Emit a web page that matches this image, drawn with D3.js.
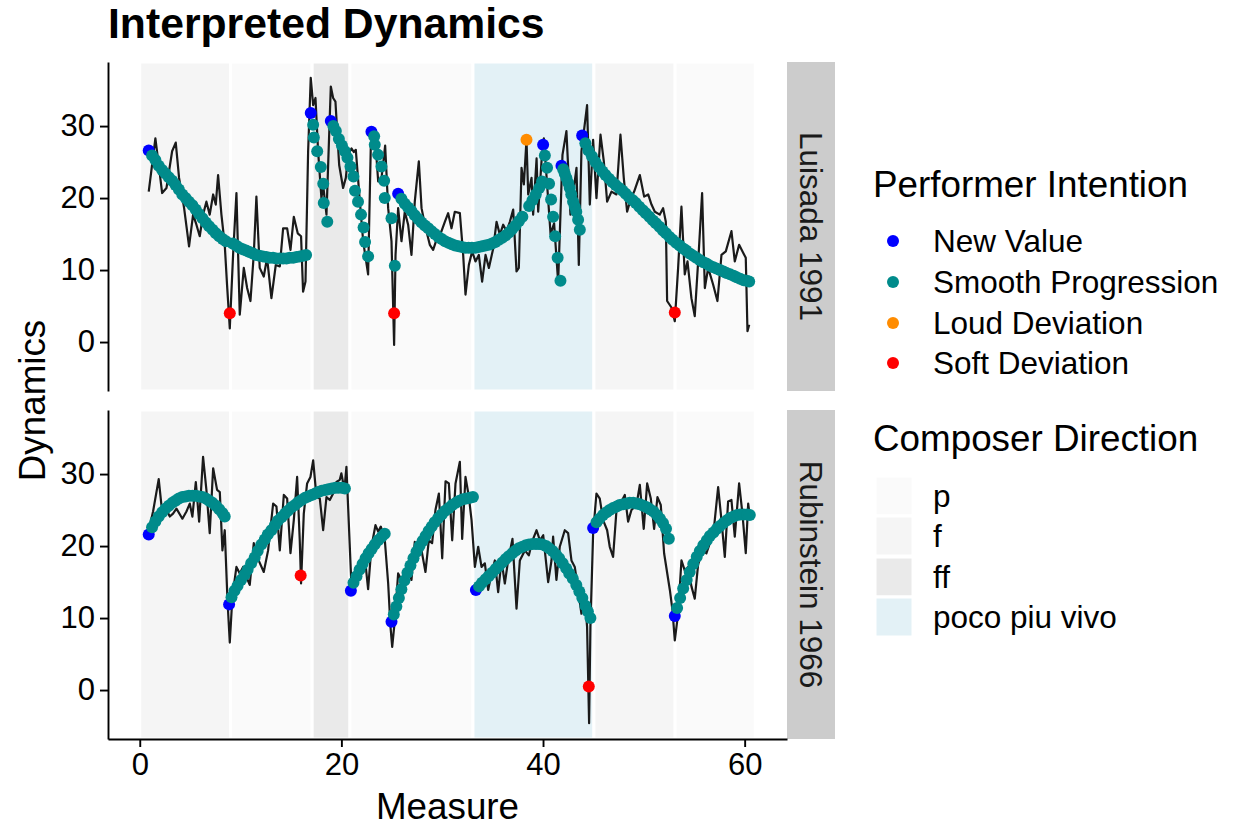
<!DOCTYPE html>
<html>
<head>
<meta charset="utf-8">
<script src="https://cdn.jsdelivr.net/npm/d3@7"></script>
<style>
  body { margin: 0; background: #fff; }
  svg { display: block; font-family: "Liberation Sans", Arial, Helvetica, sans-serif; }
</style>
</head>
<body>
<script>
// ---- data ----
const panels = ["Luisada 1991", "Rubinstein 1966"];
const xTicks = [0, 20, 40, 60];
const yTicks = [0, 10, 20, 30];

// composer markings over the measures
const sectionStart = [0, 9, 17.1, 20.85, 33.05, 45.05, 53.1];
const sectionEnd   = [9, 17.1, 20.85, 33.05, 45.05, 53.1, 61.05];
const sectionMark  = ["f", "p", "ff", "p", "poco piu vivo", "f", "p"];
const directionLabels = ["p", "f", "ff", "poco piu vivo"];
const directionColors = ["#fafafa", "#f5f5f5", "#eaeaea", "#e3f1f6"];

// performer intention classes (index used in the point arrays)
const intentionLabels = ["New Value", "Smooth Progression", "Loud Deviation", "Soft Deviation"];
const intentionColors = ["#0000ff", "#008b8b", "#ff8c00", "#ff0000"];

// measured dynamics: [measure, dynamics]
const luisadaDynamics = [[0.89,20.9],[1.55,28.3],[1.88,24.6],[2.22,20.7],[2.65,21.4],[3.21,26.5],[3.57,27.7],[3.9,22.8],[4.4,18.6],[4.89,13.3],[5.29,17.7],[5.62,16.3],[5.95,14.7],[6.28,17.7],[6.61,19.5],[6.94,17.7],[7.28,20.5],[7.54,19.1],[7.77,23.2],[8.1,17.7],[8.43,13.5],[8.66,7.9],[8.93,1.9],[9.26,12.2],[9.59,20.7],[9.92,3.8],[10.32,10.3],[10.65,7.5],[10.98,5.7],[11.31,12.2],[11.57,20.2],[11.9,10.3],[12.3,9.1],[12.63,11.7],[13.06,6.1],[13.49,10.7],[13.89,10.5],[14.22,15.8],[14.62,15.8],[14.95,12.8],[15.28,17.4],[15.67,15.1],[16.0,14.7],[16.2,7.0],[16.44,8.4],[16.7,26.5],[16.96,36.7],[17.2,32.9],[17.43,33.9],[17.69,26.5],[18.02,20.0],[18.19,21.8],[18.52,17.7],[18.95,35.5],[19.18,33.9],[19.41,33.4],[19.78,24.6],[20.17,21.4],[20.44,22.8],[20.67,26.0],[21.0,26.9],[21.23,26.4],[21.43,26.7],[21.83,19.5],[22.16,14.0],[22.65,9.4],[22.92,27.4],[23.32,28.8],[23.65,22.3],[23.98,22.8],[24.34,27.3],[24.64,18.6],[24.97,14.0],[25.23,-0.4],[25.37,12.1],[25.63,18.6],[25.96,14.0],[26.29,18.1],[26.62,16.3],[26.95,12.1],[27.28,19.5],[27.68,25.1],[27.95,18.6],[28.28,16.3],[28.77,13.5],[29.1,12.8],[29.43,14.2],[29.93,15.4],[30.26,16.7],[30.59,17.9],[30.92,15.8],[31.25,18.1],[31.75,17.9],[32.08,12.1],[32.31,6.6],[32.64,10.7],[32.97,12.6],[33.3,11.2],[33.63,12.1],[33.96,8.4],[34.3,12.1],[34.63,10.3],[35.06,13.0],[35.39,16.7],[35.72,14.9],[36.05,16.3],[36.38,15.4],[36.71,16.7],[37.04,18.4],[37.37,9.8],[37.6,10.3],[37.87,24.2],[38.1,21.9],[38.36,28.1],[38.53,20.5],[38.86,22.8],[39.02,17.7],[39.36,25.5],[39.52,18.1],[39.85,25.1],[40.08,28.3],[40.4,22.0],[40.75,15.0],[41.1,16.5],[41.5,8.3],[41.93,26.0],[42.32,29.3],[42.72,17.7],[43.32,24.2],[43.55,10.7],[43.81,26.5],[44.37,32.9],[44.64,19.1],[44.97,28.1],[45.3,20.0],[45.7,28.8],[46.03,25.1],[46.36,19.5],[46.79,20.9],[47.28,20.5],[47.68,28.8],[48.01,22.8],[48.34,18.1],[48.71,19.9],[49.04,20.9],[49.6,23.2],[50.03,20.2],[50.43,20.5],[50.76,19.1],[51.09,18.1],[51.58,17.7],[51.91,18.6],[52.18,16.7],[52.31,5.7],[52.74,4.8],[53.07,2.9],[53.4,10.3],[53.73,18.8],[54.06,9.4],[54.33,11.2],[54.72,6.1],[55.05,3.6],[55.45,12.6],[55.78,20.7],[56.05,7.5],[56.38,10.3],[56.87,8.0],[57.3,5.7],[57.7,12.1],[58.13,12.6],[58.69,15.4],[59.02,11.2],[59.45,13.5],[59.85,12.4],[60.11,11.7],[60.28,1.5],[60.45,2.4]];

const rubinsteinDynamics = [[0.89,22.2],[1.32,24.8],[1.88,29.3],[2.15,25.7],[2.48,25.5],[2.98,24.1],[3.3,24.5],[3.64,25.2],[4.23,23.8],[4.63,24.8],[4.96,25.9],[5.22,24.1],[5.56,28.9],[5.89,23.4],[6.28,32.4],[6.61,27.8],[6.94,21.8],[7.28,30.8],[7.67,27.8],[7.94,27.5],[8.2,19.4],[8.43,22.2],[8.7,12.5],[8.93,6.6],[9.19,13.0],[9.59,17.1],[9.92,16.2],[10.25,17.1],[10.58,15.7],[10.91,14.6],[11.31,20.4],[11.64,18.5],[12.3,16.4],[12.73,19.4],[13.23,25.9],[13.56,25.5],[13.89,19.4],[14.29,27.1],[14.62,26.6],[14.95,19.0],[15.28,23.6],[15.61,29.6],[15.87,20.8],[16.0,14.8],[16.27,24.5],[16.6,28.7],[16.93,29.6],[17.2,31.9],[17.53,26.8],[17.86,26.6],[18.19,22.2],[18.52,26.8],[18.85,26.4],[19.18,27.3],[19.51,28.9],[19.84,29.2],[20.0,30.1],[20.3,27.8],[20.5,31.0],[21.0,14.4],[21.33,16.2],[21.83,17.1],[22.32,18.5],[22.65,14.0],[22.98,19.9],[23.38,22.9],[23.65,22.0],[23.91,22.7],[24.31,20.8],[24.64,14.8],[24.87,8.8],[25.04,6.0],[25.3,9.7],[25.63,16.2],[26.29,14.4],[26.62,17.1],[26.95,15.3],[27.28,20.6],[27.62,19.0],[27.95,19.4],[28.34,16.4],[28.67,20.8],[29.0,20.4],[29.33,25.0],[29.67,27.3],[30.0,18.3],[30.33,29.0],[30.66,28.7],[30.99,20.8],[31.32,28.7],[31.75,31.7],[31.98,21.0],[32.31,29.6],[32.64,26.9],[32.91,23.6],[33.24,17.1],[33.57,19.9],[33.9,17.1],[34.23,17.6],[34.56,13.9],[34.89,16.2],[35.22,18.0],[35.55,13.6],[35.88,18.0],[36.21,14.8],[36.54,18.0],[36.97,21.0],[37.37,11.3],[37.7,18.0],[38.2,19.4],[38.59,18.7],[38.96,20.8],[39.36,22.2],[39.69,20.8],[40.02,21.5],[40.51,15.0],[40.84,18.0],[41.0,21.3],[41.33,15.3],[41.66,19.9],[42.16,22.2],[42.49,21.8],[42.82,18.0],[43.15,17.1],[43.48,13.9],[43.81,10.6],[44.14,12.9],[44.37,8.8],[44.57,-4.6],[44.7,8.8],[44.97,21.8],[45.3,27.3],[45.63,26.6],[45.96,23.6],[46.36,22.2],[46.62,19.9],[46.95,18.5],[47.35,26.2],[47.78,26.2],[48.11,27.1],[48.44,23.4],[48.77,25.0],[49.27,25.7],[49.6,28.5],[49.99,22.4],[50.33,28.7],[50.69,26.6],[51.02,22.4],[51.35,26.8],[51.68,25.7],[52.01,19.0],[52.58,13.9],[52.84,11.1],[53.07,6.9],[53.4,10.6],[53.73,18.0],[54.06,16.6],[54.39,17.1],[54.72,14.4],[55.05,12.7],[55.38,17.4],[55.81,19.4],[56.21,19.0],[56.64,20.8],[56.97,22.7],[57.37,28.2],[57.7,23.6],[58.03,18.5],[58.36,26.2],[58.69,26.4],[59.02,21.3],[59.45,28.7],[59.78,24.5],[60.11,19.0],[60.35,25.9],[60.51,24.1]];

// interpreted intention: [measure, dynamics, class]
const luisadaIntention = [
  [0.89,26.6,0],[1.22,25.9,1],[1.55,25.3,1],[1.88,24.5,1],[2.22,23.9,1],[2.55,23.4,1],[2.88,22.9,1],[3.22,22.4,1],[3.55,21.8,1],[3.88,21.2,1],[4.22,20.5,1],[4.55,20.0,1],[4.88,19.5,1],[5.22,19.0,1],[5.55,18.4,1],[5.88,17.8,1],[6.22,17.2,1],[6.55,16.6,1],[6.88,16.1,1],[7.22,15.6,1],[7.55,15.1,1],[7.88,14.7,1],[8.22,14.3,1],[8.55,14.0,1],[8.93,4.0,3],[9.22,13.7,1],[9.55,13.4,1],[9.88,13.1,1],[10.22,12.9,1],[10.55,12.7,1],[10.88,12.5,1],[11.22,12.3,1],[11.55,12.1,1],[11.88,12.0,1],[12.22,11.9,1],[12.55,11.8,1],[12.88,11.7,1],[13.22,11.7,1],[13.55,11.6,1],[13.88,11.6,1],[14.22,11.6,1],[14.55,11.6,1],[14.88,11.7,1],[15.22,11.7,1],[15.55,11.8,1],[15.88,11.9,1],[16.22,12.0,1],[16.5,12.1,1],
  [16.96,31.8,0],[17.2,30.2,1],[17.27,28.4,1],[17.6,26.5,1],[17.96,24.3,1],[18.2,22.0,1],[18.25,19.3,1],[18.6,16.7,1],
  [18.95,30.7,0],[19.2,30.0,1],[19.45,29.3,1],[19.75,28.2,1],[20.05,27.3,1],[20.35,26.5,1],[20.6,25.6,1],[20.9,24.4,1],[21.2,23.0,1],[21.35,21.0,1],[21.65,19.5,1],[21.95,17.7,1],[22.2,15.9,1],[22.35,13.9,1],[22.65,11.9,1],
  [22.98,29.2,0],[23.25,28.6,1],[23.31,27.4,1],[23.64,26.0,1],[23.97,24.4,1],[24.24,22.4,1],[24.3,20.0,1],[24.97,17.2,1],[25.23,4.0,3],[25.3,10.6,1],
  [25.63,20.6,0],[25.95,19.9,1],[26.29,19.2,1],[26.62,18.7,1],[26.95,18.2,1],[27.28,17.6,1],[27.62,17.1,1],[27.95,16.6,1],[28.28,16.2,1],[28.62,15.8,1],[28.95,15.4,1],[29.28,15.0,1],[29.62,14.6,1],[29.95,14.3,1],[30.28,14.0,1],[30.62,13.8,1],[30.95,13.6,1],[31.28,13.4,1],[31.62,13.3,1],[31.95,13.2,1],[32.28,13.1,1],[32.62,13.1,1],[32.95,13.1,1],[33.28,13.1,1],[33.62,13.2,1],[33.95,13.3,1],[34.28,13.4,1],[34.62,13.5,1],[34.95,13.7,1],[35.28,13.9,1],[35.62,14.2,1],[35.95,14.5,1],[36.28,14.8,1],[36.62,15.2,1],[36.95,15.7,1],[37.28,16.2,1],[37.62,16.8,1],[37.95,17.4,1],[38.36,28.1,2],[38.62,18.9,1],[38.95,19.7,1],[39.28,20.5,1],[39.62,21.4,1],[39.9,22.3,1],
  [40.01,27.4,0],[40.18,25.9,1],[40.4,24.2,1],[40.6,22.0,1],[40.8,19.8,1],[41.0,17.4,1],[41.2,14.7,1],[41.45,11.7,1],[41.73,8.5,1],
  [41.83,24.5,0],[42.0,24.0,1],[42.15,23.4,1],[42.32,22.8,1],[42.5,22.1,1],[42.65,21.4,1],[42.8,20.5,1],[42.98,19.5,1],[43.15,18.8,1],[43.3,18.1,1],[43.48,17.0,1],[43.65,15.6,1],
  [43.88,28.7,0],[44.2,27.6,1],[44.5,26.6,1],[44.85,25.8,1],[45.2,25.0,1],[45.55,24.3,1],[45.9,23.7,1],[46.2,23.2,1],[46.55,22.7,1],[46.9,22.2,1],[47.2,21.8,1],[47.55,21.4,1],[47.9,21.0,1],[48.2,20.6,1],[48.55,20.1,1],[48.9,19.7,1],[49.2,19.3,1],[49.55,18.8,1],[49.9,18.3,1],[50.2,17.9,1],[50.55,17.4,1],[50.9,16.9,1],[51.2,16.5,1],[51.55,16.0,1],[51.9,15.5,1],[52.2,15.1,1],[52.55,14.6,1],[52.85,14.2,1],[53.07,4.1,3],[53.2,13.8,1],[53.55,13.4,1],[53.9,13.0,1],[54.2,12.7,1],[54.55,12.3,1],[54.9,12.0,1],[55.2,11.7,1],[55.55,11.4,1],[55.9,11.1,1],[56.2,10.9,1],[56.55,10.6,1],[56.9,10.4,1],[57.2,10.2,1],[57.55,10.0,1],[57.9,9.8,1],[58.2,9.6,1],[58.55,9.4,1],[58.9,9.2,1],[59.2,9.0,1],[59.55,8.8,1],[59.9,8.6,1],[60.2,8.5,1],[60.45,8.4,1]
];

const rubinsteinIntention = [
  [0.89,21.6,0],[1.22,22.6,1],[1.55,23.4,1],[1.88,24.1,1],[2.22,24.7,1],[2.55,25.2,1],[2.88,25.6,1],[3.22,26.0,1],[3.55,26.3,1],[3.88,26.6,1],[4.22,26.8,1],[4.55,26.9,1],[4.88,27.0,1],[5.22,27.0,1],[5.55,27.0,1],[5.88,26.9,1],[6.22,26.8,1],[6.55,26.6,1],[6.88,26.3,1],[7.22,26.0,1],[7.55,25.6,1],[7.88,25.1,1],[8.2,24.6,1],[8.43,24.1,1],
  [8.86,11.9,0],[9.1,12.9,1],[9.4,13.8,1],[9.7,14.5,1],[10.05,15.3,1],[10.4,16.0,1],[10.7,16.7,1],[11.05,17.6,1],[11.4,18.4,1],[11.7,19.3,1],[12.05,20.2,1],[12.4,20.9,1],[12.7,21.6,1],[13.05,22.2,1],[13.4,22.9,1],[13.7,23.5,1],[14.05,24.0,1],[14.4,24.5,1],[14.7,24.9,1],[15.05,25.4,1],[15.4,25.7,1],[15.7,26.1,1],[15.96,15.9,3],[16.05,26.4,1],[16.4,26.7,1],[16.7,26.9,1],[17.05,27.1,1],[17.4,27.3,1],[17.7,27.5,1],[18.05,27.7,1],[18.4,27.8,1],[18.7,27.9,1],[19.05,28.0,1],[19.4,28.1,1],[19.7,28.1,1],[20.05,28.1,1],[20.35,28.0,1],
  [20.94,13.8,0],[21.2,14.9,1],[21.5,15.8,1],[21.8,16.7,1],[22.1,17.5,1],[22.4,18.3,1],[22.7,19.0,1],[23.0,19.6,1],[23.3,20.2,1],[23.65,20.8,1],[24.0,21.3,1],[24.3,21.7,1],
  [24.97,9.5,0],[25.2,10.5,1],[25.45,11.6,1],[25.7,12.8,1],[25.95,14.0,1],[26.25,15.2,1],[26.55,16.3,1],[26.85,17.3,1],[27.15,18.3,1],[27.45,19.2,1],[27.75,20.0,1],[28.05,20.7,1],[28.35,21.4,1],[28.65,22.1,1],[28.95,22.7,1],[29.25,23.3,1],[29.6,23.9,1],[29.95,24.4,1],[30.3,24.9,1],[30.65,25.3,1],[31.0,25.7,1],[31.35,26.0,1],[31.7,26.3,1],[32.05,26.5,1],[32.4,26.6,1],[32.75,26.7,1],[33.05,26.8,1],
  [33.34,13.9,0],[33.65,14.4,1],[33.95,14.9,1],[34.3,15.4,1],[34.6,15.8,1],[34.95,16.3,1],[35.3,16.8,1],[35.6,17.2,1],[35.95,17.7,1],[36.3,18.2,1],[36.6,18.6,1],[36.95,19.0,1],[37.3,19.4,1],[37.6,19.7,1],[37.95,19.9,1],[38.3,20.1,1],[38.6,20.2,1],[38.95,20.3,1],[39.3,20.3,1],[39.6,20.3,1],[39.95,20.2,1],[40.3,20.0,1],[40.6,19.7,1],[40.95,19.3,1],[41.3,18.8,1],[41.6,18.3,1],[41.95,17.6,1],[42.3,16.9,1],[42.6,16.2,1],[42.95,15.5,1],[43.3,14.6,1],[43.6,13.7,1],[43.9,12.8,1],[44.2,11.7,1],[44.45,10.9,1],[44.54,0.5,3],[44.7,10.0,1],
  [44.97,22.5,0],[45.3,23.3,1],[45.6,23.8,1],[45.95,24.3,1],[46.3,24.7,1],[46.6,25.0,1],[46.95,25.3,1],[47.3,25.5,1],[47.6,25.7,1],[47.95,25.8,1],[48.3,25.9,1],[48.6,26.0,1],[48.95,26.0,1],[49.3,25.9,1],[49.6,25.8,1],[49.95,25.6,1],[50.3,25.4,1],[50.6,25.1,1],[50.95,24.8,1],[51.3,24.3,1],[51.6,23.8,1],[51.9,23.2,1],[52.2,22.4,1],[52.48,21.0,1],
  [53.07,10.3,0],[53.3,11.4,1],[53.6,12.8,1],[53.9,14.1,1],[54.25,15.3,1],[54.55,16.4,1],[54.9,17.5,1],[55.25,18.5,1],[55.55,19.3,1],[55.9,20.1,1],[56.25,20.8,1],[56.55,21.4,1],[56.9,21.9,1],[57.25,22.4,1],[57.55,22.8,1],[57.9,23.2,1],[58.25,23.6,1],[58.55,23.9,1],[58.9,24.1,1],[59.25,24.3,1],[59.55,24.4,1],[59.9,24.4,1],[60.25,24.4,1],[60.51,24.3,1]
];

// ---- layout ----
const W = 1234, H = 828;
const panelLeft = 108, panelRight = 787;
const panelTop = [62, 410], panelH = 329;
const stripW = 48;
const pointR = 6;

const svg = d3.select("body").append("svg").attr("width", W).attr("height", H);
svg.append("rect").attr("width", W).attr("height", H).attr("fill", "#fff");

const x = d3.scaleLinear().domain([-3.15, 64.2]).range([panelLeft, panelRight]);
const dirColor = d3.scaleOrdinal().domain(directionLabels).range(directionColors);
const lineData = [luisadaDynamics, rubinsteinDynamics];
const pointData = [luisadaIntention, rubinsteinIntention];

const sections = sectionStart.map((s, j) => ({ s, e: sectionEnd[j], m: sectionMark[j] }));

panels.forEach((name, i) => {
  const top = panelTop[i];
  const y = d3.scaleLinear().domain([-6.8, 38.9]).range([top + panelH, top]);
  const g = svg.append("g");

  // composer direction bands
  g.selectAll("rect.band").data(sections).join("rect")
    .attr("class", "band")
    .attr("x", d => x(d.s)).attr("width", d => x(d.e) - x(d.s))
    .attr("y", top).attr("height", panelH)
    .attr("fill", d => dirColor(d.m))
    .attr("stroke", "#fff").attr("stroke-width", 3);

  // measured dynamics
  g.append("path").datum(lineData[i])
    .attr("d", d3.line().x(d => x(d[0])).y(d => y(d[1])))
    .attr("fill", "none").attr("stroke", "#1a1a1a")
    .attr("stroke-width", 2.2).attr("stroke-linejoin", "round");

  // interpreted intention points
  g.selectAll("circle").data(pointData[i]).join("circle")
    .attr("cx", d => x(d[0])).attr("cy", d => y(d[1]))
    .attr("r", pointR).attr("fill", d => intentionColors[d[2]]);

  // y axis
  const ay = svg.append("g").attr("transform", `translate(${panelLeft},0)`)
    .call(d3.axisLeft(y).tickValues(yTicks).tickSize(8).tickSizeOuter(0).tickPadding(5));
  ay.select(".domain").attr("stroke", "#000").attr("stroke-width", 1.9);
  ay.selectAll(".tick line").attr("stroke", "#000").attr("stroke-width", 1.9);
  ay.selectAll(".tick text").attr("font-size", 31).attr("fill", "#000")
    .attr("font-family", "Liberation Sans, Arial, sans-serif");

  // facet strip
  svg.append("rect").attr("x", panelRight).attr("y", top)
    .attr("width", stripW).attr("height", panelH).attr("fill", "#cccccc");
  svg.append("text")
    .attr("transform", `translate(${panelRight + stripW / 2},${top + panelH / 2}) rotate(90)`)
    .attr("text-anchor", "middle").attr("dominant-baseline", "central")
    .attr("font-size", 31.5).attr("fill", "#1a1a1a").text(name);
});

// x axis (bottom panel only)
const axisY = panelTop[1] + panelH;
const axb = svg.append("g").attr("transform", `translate(0,${axisY})`)
  .call(d3.axisBottom(x).tickValues(xTicks).tickSize(8).tickSizeOuter(0).tickPadding(6));
axb.select(".domain").attr("stroke", "#000").attr("stroke-width", 1.9);
axb.selectAll(".tick line").attr("stroke", "#000").attr("stroke-width", 1.9);
axb.selectAll(".tick text").attr("font-size", 31).attr("fill", "#000")
  .attr("font-family", "Liberation Sans, Arial, sans-serif");

// titles
svg.append("text").attr("x", 108).attr("y", 38)
  .attr("font-size", 42.7).attr("font-weight", "bold").attr("fill", "#000")
  .text("Interpreted Dynamics");
svg.append("text").attr("x", (panelLeft + panelRight) / 2).attr("y", 819)
  .attr("text-anchor", "middle").attr("font-size", 36.8).attr("fill", "#000")
  .text("Measure");
svg.append("text")
  .attr("transform", `translate(45,${(panelTop[0] + panelTop[1] + panelH) / 2}) rotate(-90)`)
  .attr("text-anchor", "middle").attr("font-size", 36.8).attr("fill", "#000")
  .text("Dynamics");

// legend: performer intention
const lg1 = svg.append("g");
lg1.append("text").attr("x", 873).attr("y", 197).attr("font-size", 36.8).attr("fill", "#000")
  .text("Performer Intention");
const rowY1 = [241, 282, 323, 363];
lg1.selectAll("circle").data(intentionLabels).join("circle")
  .attr("cx", 893).attr("cy", (d, k) => rowY1[k]).attr("r", pointR)
  .attr("fill", (d, k) => intentionColors[k]);
lg1.selectAll("text.lab").data(intentionLabels).join("text")
  .attr("class", "lab").attr("x", 933).attr("y", (d, k) => rowY1[k])
  .attr("dy", "0.35em").attr("font-size", 31.5).attr("fill", "#000").text(d => d);

// legend: composer direction
const lg2 = svg.append("g");
lg2.append("text").attr("x", 873).attr("y", 451).attr("font-size", 36.8).attr("fill", "#000")
  .text("Composer Direction");
const rowY2 = [496, 536, 577, 617];
lg2.selectAll("rect").data(directionLabels).join("rect")
  .attr("x", 875).attr("width", 38)
  .attr("y", (d, k) => rowY2[k] - 20).attr("height", 40)
  .attr("fill", d => dirColor(d)).attr("stroke", "#fff").attr("stroke-width", 3);
lg2.selectAll("text.lab").data(directionLabels).join("text")
  .attr("class", "lab").attr("x", 933).attr("y", (d, k) => rowY2[k])
  .attr("dy", "0.35em").attr("font-size", 31.5).attr("fill", "#000").text(d => d);
</script>
</body>
</html>
